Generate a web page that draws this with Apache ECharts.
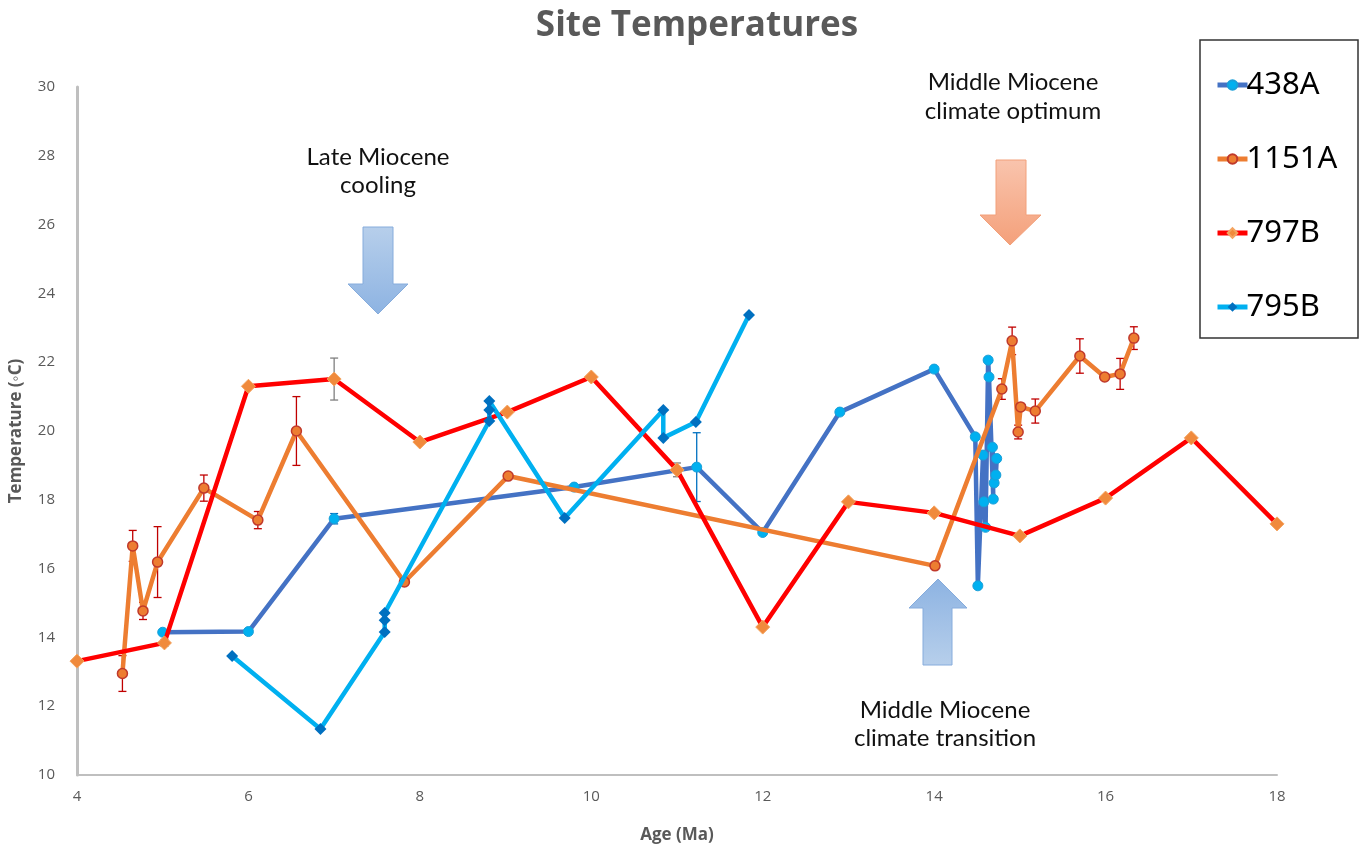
<!DOCTYPE html>
<html>
<head>
<meta charset="utf-8">
<title>Site Temperatures</title>
<script src="https://cdn.jsdelivr.net/npm/echarts@6/dist/echarts.min.js"></script>
<style>
  html, body { margin: 0; padding: 0; background: #fff; }
  #main { width: 1371px; height: 856px; }
</style>
</head>
<body>
<div id="main"></div>
<script>
// ---- data ----
// 438A
var age438A = [5.0, 6.0, 7.0, 9.8, 11.23, 12.0, 12.9, 14.0, 14.48, 14.51, 14.57, 14.58, 14.6, 14.63, 14.64, 14.69, 14.68, 14.7, 14.72, 14.73];
var temp438A = [14.15, 14.17, 17.45, 18.37, 18.95, 17.05, 20.55, 21.8, 19.83, 15.5, 19.3, 17.94, 17.2, 22.06, 21.57, 18.02, 19.53, 18.49, 18.72, 19.2];
var err438A = [0, 0, 0.15, 0, 1.0, 0, 0, 0, 0, 0, 0, 0, 0, 0, 0, 0, 0, 0, 0, 0];

// 1151A
var age1151A = [4.53, 4.65, 4.77, 4.94, 5.48, 6.11, 6.56, 7.82, 9.03, 14.01, 14.79, 14.91, 14.98, 15.01, 15.18, 15.7, 15.99, 16.17, 16.33];
var temp1151A = [12.95, 16.66, 14.77, 16.19, 18.34, 17.41, 20.0, 15.61, 18.69, 16.08, 21.22, 22.62, 19.97, 20.7, 20.58, 22.18, 21.57, 21.66, 22.7];
var err1151A = [0.52, 0.45, 0.25, 1.03, 0.38, 0.25, 1.0, 0, 0, 0, 0.3, 0.4, 0.2, 0, 0.35, 0.5, 0, 0.45, 0.33];

// 797B
var age797B = [4, 5.02, 6, 7, 8, 9.02, 10, 11, 12, 13, 14, 15, 16, 17, 18];
var temp797B = [13.31, 13.84, 21.3, 21.51, 19.68, 20.55, 21.57, 18.87, 14.3, 17.94, 17.62, 16.95, 18.05, 19.8, 17.3];
var err797B = [0, 0.1, 0, 0.61, 0, 0, 0, 0.2, 0, 0, 0, 0, 0, 0, 0];

// 795B
var age795B = [5.81, 6.84, 7.59, 7.59, 7.59, 8.81, 8.81, 8.81, 9.69, 10.84, 10.84, 11.22, 11.84];
var temp795B = [13.46, 11.34, 14.16, 14.5, 14.71, 20.29, 20.61, 20.87, 17.47, 20.61, 19.8, 20.26, 23.37];

var seriesNames = ["438A", "1151A", "797B", "795B"];
var xTicks = { min: 4, max: 18, step: 2 };
var yTicks = { min: 10, max: 30, step: 2 };

// ---- helpers ----
function pairs(xs, ys) {
  return xs.map(function (x, i) { return [x, ys[i]]; });
}
function errData(xs, ys, es) {
  var out = [];
  xs.forEach(function (x, i) {
    if (es[i] > 0) out.push([x, ys[i], es[i]]);
  });
  return out;
}
// 误差线
function errBars(color) {
  return function (params, api) {
    var x = api.value(0), y = api.value(1), e = api.value(2);
    var top = api.coord([x, y + e]);
    var bot = api.coord([x, y - e]);
    var w = 4;
    var st = { stroke: color, lineWidth: 1.3 };
    return {
      type: "group",
      children: [
        { type: "line", shape: { x1: top[0], y1: top[1], x2: bot[0], y2: bot[1] }, style: st },
        { type: "line", shape: { x1: top[0] - w, y1: top[1], x2: top[0] + w, y2: top[1] }, style: st },
        { type: "line", shape: { x1: bot[0] - w, y1: bot[1], x2: bot[0] + w, y2: bot[1] }, style: st }
      ]
    };
  };
}
function arrow(pts, c1, c2, border) {
  return {
    type: "polygon",
    shape: { points: pts },
    style: {
      fill: new echarts.graphic.LinearGradient(0, 0, 0, 1, [
        { offset: 0, color: c1 },
        { offset: 1, color: c2 }
      ]),
      stroke: border,
      lineWidth: 1
    },
    z: 10
  };
}
function label(x, y, text) {
  return {
    type: "text",
    x: x, y: y,
    style: {
      text: text,
      fontFamily: "Lato",
      fontSize: 24,
      fill: "#111",
      align: "center",
      verticalAlign: "middle"
    },
    z: 10
  };
}

var colors = {
  "438A": { line: "#4472C4", fill: "#00B0F0", border: "#1A9FD8" },
  "1151A": { line: "#ED7D31", fill: "#ED7D31", border: "#C0392B" },
  "797B": { line: "#FF0000", fill: "#F08A3C", border: "#F4A460" },
  "795B": { line: "#00B0F0", fill: "#0070C0", border: "#0070C0" }
};

var myChart = echarts.init(document.getElementById("main"));

myChart.setOption({
  backgroundColor: "#fff",
  animation: false,
  grid: { left: 77, right: 94, top: 87, bottom: 81 },
  xAxis: {
    type: "value",
    min: xTicks.min, max: xTicks.max, interval: xTicks.step,
    name: "Age (Ma)",
    nameLocation: "middle",
    nameGap: 52,
    nameTextStyle: { color: "#595959", fontSize: 17, fontWeight: "bold", fontFamily: "Open Sans" },
    axisLine: { show: true, lineStyle: { color: "#BFBFBF", width: 2 } },
    axisTick: { show: false },
    splitLine: { show: false },
    axisLabel: { color: "#595959", fontSize: 15, margin: 14, fontFamily: "Open Sans" }
  },
  yAxis: {
    type: "value",
    min: yTicks.min, max: yTicks.max, interval: yTicks.step,
    name: "Temperature (◦C)",
    nameLocation: "middle",
    nameGap: 52,
    nameTextStyle: { color: "#595959", fontSize: 17, fontWeight: "bold", fontFamily: "Open Sans" },
    axisLine: { show: true, lineStyle: { color: "#BFBFBF", width: 3 } },
    axisTick: { show: false },
    splitLine: { show: false },
    axisLabel: { color: "#595959", fontSize: 15, margin: 22, fontFamily: "Open Sans" }
  },
  legend: {
    data: seriesNames.map(function (n) {
      return {
        name: n,
        lineStyle: { color: colors[n].line, width: 5 },
        itemStyle: { color: colors[n].fill, borderColor: colors[n].border }
      };
    }),
    orient: "vertical",
    left: 1210,
    top: 64,
    itemWidth: 30,
    itemHeight: 12,
    itemGap: 42,
    textStyle: { color: "#000", fontSize: 31, lineHeight: 32, fontFamily: "Noto Sans", padding: [0, 0, 0, -6] }
  },
  graphic: [
    {
      type: "text", x: 697, y: 26,
      style: { text: "Site Temperatures", fontSize: 35, fontWeight: "bold", fontFamily: "Open Sans", fill: "#595959", align: "center", verticalAlign: "middle" }
    },
    {
      type: "rect",
      shape: { x: 1200, y: 40, width: 158, height: 298 },
      style: { fill: "none", stroke: "#333", lineWidth: 1.5 },
      z: 5
    },
    label(378, 157, "Late Miocene"),
    label(378, 185, "cooling"),
    label(1013, 82, "Middle Miocene"),
    label(1013, 111, "climate optimum"),
    label(945, 710, "Middle Miocene"),
    label(945, 738, "climate transition"),
    arrow([[363, 227], [393, 227], [393, 284], [408, 284], [378, 314], [348, 284], [363, 284]], "#B7CFEB", "#8DB3E2", "#86ACDC"),
    arrow([[996, 160], [1026, 160], [1026, 215], [1041, 215], [1010, 245], [980, 215], [996, 215]], "#F9C4AD", "#F4A07A", "#F2A07A"),
    arrow([[938, 579], [967, 608], [952, 608], [952, 665], [923, 665], [923, 608], [909, 608]], "#8DB3E2", "#B7CFEB", "#86ACDC")
  ],
  series: [
    {
      name: "err438A", type: "custom", renderItem: errBars("#0070C0"),
      data: errData(age438A, temp438A, err438A), encode: { x: 0, y: 1 }, z: 1, silent: true
    },
    {
      name: "err1151A", type: "custom", renderItem: errBars("#C00000"),
      data: errData(age1151A, temp1151A, err1151A), encode: { x: 0, y: 1 }, z: 1, silent: true
    },
    {
      name: "err797B", type: "custom", renderItem: errBars("#7F7F7F"),
      data: errData(age797B, temp797B, err797B), encode: { x: 0, y: 1 }, z: 1, silent: true
    },
    {
      name: "438A", type: "line", data: pairs(age438A, temp438A), z: 2,
      symbol: "circle", symbolSize: 10,
      lineStyle: { color: colors["438A"].line, width: 4.5 },
      itemStyle: { color: colors["438A"].fill, borderColor: colors["438A"].border, borderWidth: 1 }
    },
    {
      name: "1151A", type: "line", data: pairs(age1151A, temp1151A), z: 3,
      symbol: "circle", symbolSize: 10,
      lineStyle: { color: colors["1151A"].line, width: 4.5 },
      itemStyle: { color: colors["1151A"].fill, borderColor: colors["1151A"].border, borderWidth: 1.5 }
    },
    {
      name: "797B", type: "line", data: pairs(age797B, temp797B), z: 4,
      symbol: "diamond", symbolSize: 14,
      lineStyle: { color: colors["797B"].line, width: 4.5 },
      itemStyle: { color: colors["797B"].fill, borderColor: colors["797B"].border, borderWidth: 1 }
    },
    {
      name: "795B", type: "line", data: pairs(age795B, temp795B), z: 5,
      symbol: "diamond", symbolSize: 12,
      lineStyle: { color: colors["795B"].line, width: 4.5 },
      itemStyle: { color: colors["795B"].fill }
    }
  ]
});
</script>
</body>
</html>
